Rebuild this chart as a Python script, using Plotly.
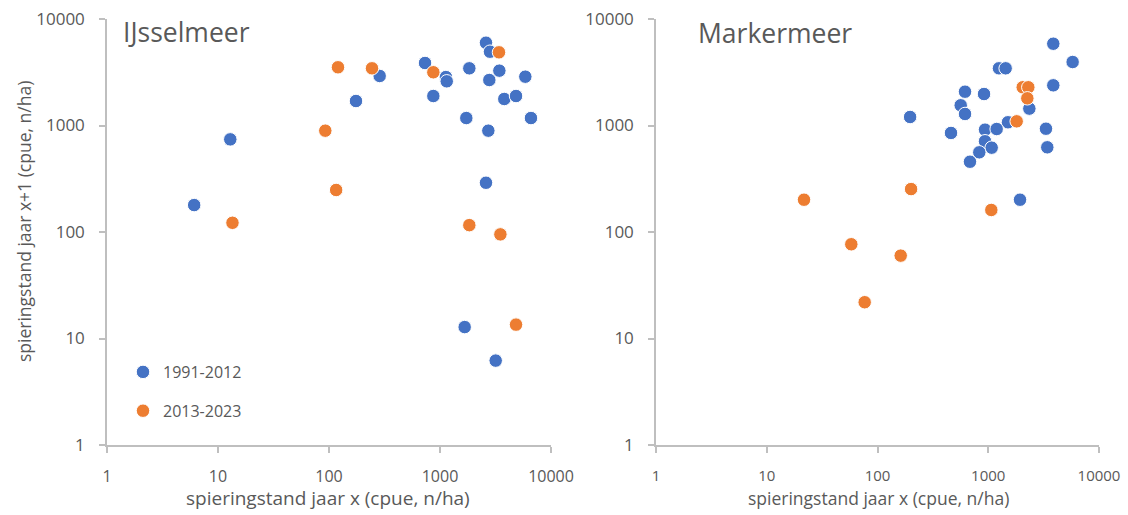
import plotly.graph_objects as go

# IJsselmeer
ij_blue_x = [2596, 2820, 286, 733, 1130, 1150, 1837, 3425, 2782, 5870, 175, 871, 3795, 4840, 1726, 6600, 2725, 12.9, 6.1, 2596, 1668, 3175]
ij_blue_y = [5990, 4930, 2917, 3862, 2850, 2600, 3443, 3273, 2674, 2873, 1698, 1892, 1774, 1892, 1175, 1175, 894, 741, 179, 290, 12.8, 6.2]
ij_orange_x = [3400, 120.5, 244, 871, 92.6, 116, 13.5, 1837, 3500, 4840]
ij_orange_y = [4865, 3520, 3443, 3160, 894, 248, 122, 116, 95, 13.5]

# Markermeer
mk_blue_x = [3866, 5780, 1250, 1436, 3866, 617, 916, 564, 617, 2350, 197, 1507, 935, 1191, 3321, 461, 935, 1074, 830, 3413, 684, 1936]
mk_blue_y = [5860, 3946, 3443, 3443, 2384, 2077, 1975, 1548, 1283, 1440, 1202, 1072, 914, 927, 933, 851, 711, 619, 560, 624, 457, 201]
mk_orange_x = [2047, 2300, 2253, 1806, 201, 21.7, 1066, 58, 162, 76.6]
mk_orange_y = [2285, 2285, 1800, 1094, 253, 201, 161, 76.7, 60, 21.9]

tick_vals = [1, 10, 100, 1000, 10000]
tick_text = ["1", "10", "100", "1000", "10000"]
series_names = ["1991-2012", "2013-2023"]
panel_titles = ["IJsselmeer", "Markermeer"]
axis_title_x = "spieringstand jaar x (cpue, n/ha)"
axis_title_y = "spieringstand jaar x+1 (cpue, n/ha)"

BLUE = "#4472C4"
ORANGE = "#ED7D31"
GRAY_TXT = "#595959"
AXIS_COL = "#BFBFBF"
FONT = "Open Sans"
W, H = 1128, 515

fig = go.Figure()
mk = dict(size=13.5, line=dict(width=1, color="white"))

fig.add_trace(go.Scatter(x=ij_blue_x, y=ij_blue_y, mode="markers", name=series_names[0],
                         marker=dict(color=BLUE, **mk), xaxis="x", yaxis="y", legendgroup="a"))
fig.add_trace(go.Scatter(x=ij_orange_x, y=ij_orange_y, mode="markers", name=series_names[1],
                         marker=dict(color=ORANGE, **mk), xaxis="x", yaxis="y", legendgroup="b"))
fig.add_trace(go.Scatter(x=mk_blue_x, y=mk_blue_y, mode="markers", name=series_names[0],
                         marker=dict(color=BLUE, **mk), xaxis="x2", yaxis="y2", showlegend=False))
fig.add_trace(go.Scatter(x=mk_orange_x, y=mk_orange_y, mode="markers", name=series_names[1],
                         marker=dict(color=ORANGE, **mk), xaxis="x2", yaxis="y2", showlegend=False))

ydom = [1 - 445 / H, 1 - 19 / H]


def xaxis_cfg(dom, anchor, fsize):
    return dict(type="log", range=[0, 4], tickvals=tick_vals, ticktext=tick_text, domain=dom, anchor=anchor,
                showgrid=False, zeroline=False, showline=True, linecolor=AXIS_COL, linewidth=1.5,
                ticks="outside", ticklen=6, tickcolor=AXIS_COL, tickwidth=1.5, automargin=False,
                tickfont=dict(family=FONT, size=fsize, color=GRAY_TXT), ticklabelstandoff=10)


def yaxis_cfg(anchor):
    return dict(type="log", range=[0, 4], tickvals=tick_vals, ticktext=tick_text, domain=ydom, anchor=anchor,
                showgrid=False, zeroline=False, showline=True, linecolor=AXIS_COL, linewidth=1.5,
                ticks="outside", ticklen=6, tickcolor=AXIS_COL, tickwidth=1.5, automargin=False,
                tickfont=dict(family=FONT, size=17, color=GRAY_TXT), ticklabelstandoff=11)


fig.update_layout(
    width=W, height=H,
    margin=dict(l=0, r=0, t=0, b=0, autoexpand=False),
    paper_bgcolor="white", plot_bgcolor="white",
    xaxis=xaxis_cfg([107 / W, 551 / W], "y", 16),
    yaxis=yaxis_cfg("x"),
    xaxis2=xaxis_cfg([656 / W, 1099 / W], "y2", 15),
    yaxis2=yaxis_cfg("x2"),
    showlegend=True,
    legend=dict(x=123 / W, y=1 - 355 / H, xanchor="left", yanchor="top",
                font=dict(family=FONT, size=16, color=GRAY_TXT), bgcolor="rgba(0,0,0,0)",
                traceorder="grouped", tracegroupgap=15, itemwidth=30),
    annotations=[
        dict(text=panel_titles[0], x=121 / W, y=1 - 32 / H, xref="paper", yref="paper",
             xanchor="left", yanchor="middle", showarrow=False,
             font=dict(family=FONT, size=26.5, color=GRAY_TXT)),
        dict(text=panel_titles[1], x=696 / W, y=1 - 33 / H, xref="paper", yref="paper",
             xanchor="left", yanchor="middle", showarrow=False,
             font=dict(family=FONT, size=26.5, color=GRAY_TXT)),
        dict(text=axis_title_x, x=328 / W, y=1 - 498 / H, xref="paper", yref="paper",
             xanchor="center", yanchor="middle", showarrow=False,
             font=dict(family=FONT, size=19, color=GRAY_TXT)),
        dict(text=axis_title_x, x=878 / W, y=1 - 498 / H, xref="paper", yref="paper",
             xanchor="center", yanchor="middle", showarrow=False,
             font=dict(family=FONT, size=17.5, color=GRAY_TXT)),
        dict(text=axis_title_y, x=24 / W, y=1 - 222 / H, xref="paper", yref="paper",
             xanchor="center", yanchor="middle", showarrow=False, textangle=-90,
             font=dict(family=FONT, size=17.5, color=GRAY_TXT)),
    ],
)

fig.write_html("out.html")
